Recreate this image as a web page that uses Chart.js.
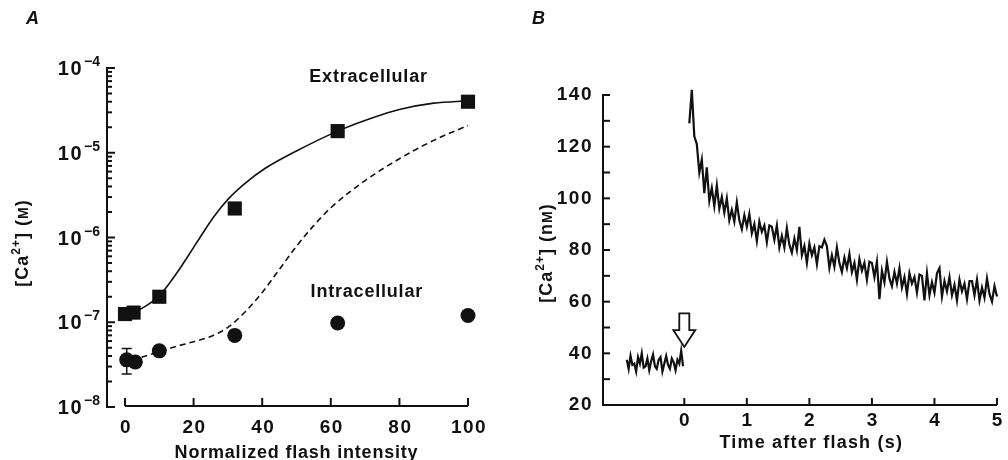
<!DOCTYPE html>
<html>
<head>
<meta charset="utf-8">
<script src="https://cdn.jsdelivr.net/npm/chart.js@4.4.1/dist/chart.umd.min.js"></script>
<style>
html, body { margin: 0; padding: 0; background: #fff; }
#wrapA { position: absolute; left: 0; top: 0; width: 500px; height: 460px; }
#wrapB { position: absolute; left: 500px; top: 0; width: 508px; height: 460px; }
</style>
</head>
<body>
<div id="wrapA"><canvas id="chartA" width="500" height="460"></canvas></div>
<div id="wrapB"><canvas id="chartB" width="508" height="460"></canvas></div>
<script>
// ---- Panel A: [Ca2+] vs normalized flash intensity ----
const extraX = [0, 2.5, 10, 32, 62, 100];
const extraY = [1.25e-7, 1.3e-7, 2.0e-7, 2.2e-6, 1.8e-5, 4.0e-5];
const intraX = [0.5, 3, 10, 32, 62, 100];
const intraY = [3.6e-8, 3.4e-8, 4.6e-8, 7.0e-8, 9.8e-8, 1.2e-7];
const intraErrX = [0.5];
const intraErrLow = [2.45e-8];
const intraErrHigh = [4.9e-8];
const fitExtraX = [2.5, 6, 10, 13, 16, 19, 22, 26, 30, 35, 41, 50, 62, 72, 80, 90, 100];
const fitExtraY = [1.3e-7, 1.55e-7, 2.05e-7, 2.9e-7, 4.3e-7, 6.6e-7, 1.02e-6, 1.78e-6, 2.82e-6, 4.36e-6, 6.6e-6, 1.05e-5, 1.8e-5, 2.57e-5, 3.24e-5, 3.85e-5, 4.1e-5];
const fitIntraX = [2, 6, 10, 15, 20, 25, 30, 35, 40, 45, 50, 55, 60, 70, 80, 90, 100];
const fitIntraY = [3.6e-8, 4.0e-8, 4.5e-8, 5.2e-8, 5.9e-8, 6.8e-8, 8.7e-8, 1.32e-7, 2.25e-7, 4.2e-7, 7.9e-7, 1.38e-6, 2.24e-6, 4.7e-6, 8.5e-6, 1.4e-5, 2.1e-5];
const xTicksA = [0, 20, 40, 60, 80, 100];
const decadesA = [-8, -7, -6, -5, -4];

// ---- Panel B: [Ca2+] trace after the flash ----
const baseT = [-0.92, -0.89, -0.86, -0.83, -0.80, -0.77, -0.74, -0.71, -0.68, -0.65, -0.62, -0.59, -0.56, -0.53, -0.50, -0.47, -0.44, -0.41, -0.38, -0.35, -0.32, -0.29, -0.26, -0.23, -0.20, -0.17, -0.14, -0.11, -0.08, -0.05, -0.02];
const baseCa = [37.5, 34, 39, 35.5, 36, 33, 38.5, 36, 40, 34.5, 35, 38, 33.5, 37, 39.5, 35, 34, 37.5, 38.5, 33, 36, 39, 35.5, 34, 38, 36.5, 33.5, 37.5, 36, 41, 35];
const decayT = [0.08, 0.12, 0.16, 0.20, 0.24, 0.28, 0.32, 0.36, 0.40, 0.44, 0.48, 0.52, 0.56, 0.60, 0.64, 0.68, 0.72, 0.76, 0.80, 0.84, 0.88, 0.92, 0.96, 1.00, 1.04, 1.08, 1.12, 1.16, 1.20, 1.24, 1.28, 1.32, 1.36, 1.40, 1.44, 1.48, 1.52, 1.56, 1.60, 1.64, 1.68, 1.72, 1.76, 1.80, 1.84, 1.88, 1.92, 1.96, 2.00, 2.04, 2.08, 2.12, 2.16, 2.20, 2.24, 2.28, 2.32, 2.36, 2.40, 2.44, 2.48, 2.52, 2.56, 2.60, 2.64, 2.68, 2.72, 2.76, 2.80, 2.84, 2.88, 2.92, 2.96, 3.00, 3.04, 3.08, 3.12, 3.16, 3.20, 3.24, 3.28, 3.32, 3.36, 3.40, 3.44, 3.48, 3.52, 3.56, 3.60, 3.64, 3.68, 3.72, 3.76, 3.80, 3.84, 3.88, 3.92, 3.96, 4.00, 4.04, 4.08, 4.12, 4.16, 4.20, 4.24, 4.28, 4.32, 4.36, 4.40, 4.44, 4.48, 4.52, 4.56, 4.60, 4.64, 4.68, 4.72, 4.76, 4.80, 4.84, 4.88, 4.92, 4.96, 5.00, 5.04, 5.08];
const decayCa = [129, 142, 124, 121, 110, 115, 102, 112, 99, 104,
  97, 105, 96, 100.5, 94.5, 100, 91.5, 95.5, 91, 98.5,
  91.5, 88, 93.5, 89, 94, 86.5, 90, 83.5, 91, 87,
  89.5, 83, 89.5, 89, 84, 89.5, 81, 85.5, 81, 88.5,
  82, 79, 84.5, 80, 89, 78, 81.5, 75, 82.5, 78,
  81, 74.5, 81.5, 81, 84, 81.5, 73, 78, 73.5, 81,
  75, 71.5, 77, 73, 78.5, 71.5, 75, 68.5, 76.5, 72,
  75, 68.5, 75.5, 75, 69.5, 75.5, 61, 72, 67.5, 75.5,
  69, 66, 71.5, 67, 73, 65.5, 69.5, 63, 71, 67,
  69.5, 63.5, 70.5, 70, 60.5, 71, 62.5, 67.5, 63.5, 71,
  73, 62, 68, 64, 69.5, 62.5, 66.5, 60.5, 68.5, 64,
  67, 61, 68, 68, 62.5, 68.5, 60.5, 65.5, 61.5, 69,
  63, 60, 66, 62, 68, 60];
const xTicksB = [0, 1, 2, 3, 4, 5];
const yTicksB = [20, 40, 60, 80, 100, 120, 140];
const yMinorB = [30, 50, 70, 90, 110, 130];

const INK = '#111';
const FONT = "'Liberation Sans', Arial, sans-serif";

function pts(xs, ys) { return xs.map((x, i) => ({ x: x, y: ys[i] })); }

function line(ctx, x1, y1, x2, y2) {
  ctx.beginPath(); ctx.moveTo(x1, y1); ctx.lineTo(x2, y2); ctx.stroke();
}

function txt(ctx, s, x, y, size, o) {
  o = o || {};
  ctx.font = (o.style || 'normal') + ' ' + (o.weight || 'bold') + ' ' + size + 'px ' + FONT;
  ctx.letterSpacing = (o.spacing || 0) + 'px';
  ctx.textAlign = o.align || 'center';
  ctx.textBaseline = o.baseline || 'middle';
  ctx.fillStyle = INK;
  ctx.fillText(s, x, y);
}

// rotated axis title made of pieces (superscript, small-cap unit)
function yTitle(ctx, parts, cx, cy) {
  ctx.save();
  ctx.translate(cx, cy);
  ctx.rotate(-Math.PI / 2);
  let w = 0;
  parts.forEach(p => {
    ctx.font = 'bold ' + p.size + 'px ' + FONT;
    ctx.letterSpacing = '1px';
    p.w = ctx.measureText(p.t).width;
    w += p.w;
  });
  let x = -w / 2;
  parts.forEach(p => {
    txt(ctx, p.t, x, 6 + (p.dy || 0), p.size, { align: 'left', baseline: 'alphabetic', spacing: 1 });
    x += p.w;
  });
  ctx.restore();
}

const axesA = {
  id: 'axesA',
  afterDatasetsDraw(chart) {
    const ctx = chart.ctx, xs = chart.scales.x, ys = chart.scales.y, a = chart.chartArea;
    ctx.save();
    ctx.strokeStyle = INK;
    ctx.lineWidth = 2;
    // y axis with log ticks pointing inward
    line(ctx, a.left, a.top - 1, a.left, a.bottom + 1);
    decadesA.forEach((d, i) => {
      const py = ys.getPixelForValue(Math.pow(10, d));
      line(ctx, a.left, py, a.left + 8, py);
      if (i < decadesA.length - 1) {
        for (let k = 2; k <= 9; k++) {
          const pm = ys.getPixelForValue(k * Math.pow(10, d));
          line(ctx, a.left, pm, a.left + 5, pm);
        }
      }
      ctx.font = 'bold 14px ' + FONT;
      ctx.letterSpacing = '0px';
      const sup = '\u2212' + Math.abs(d);
      const sw = ctx.measureText(sup).width;
      txt(ctx, sup, a.left - 7, py - 2, 14, { align: 'right', baseline: 'alphabetic' });
      txt(ctx, '10', a.left - 8 - sw, py + 7, 20, { align: 'right', baseline: 'alphabetic', spacing: 1.5 });
    });
    // detached x axis from 0 to 100
    const xb = a.bottom - 1;
    line(ctx, xs.getPixelForValue(xTicksA[0]), xb, xs.getPixelForValue(xTicksA[xTicksA.length - 1]), xb);
    xTicksA.forEach(v => {
      const px = xs.getPixelForValue(v);
      line(ctx, px, xb, px, xb - 8);
      txt(ctx, String(v), px + 1, a.bottom + 21, 19, { spacing: 1.5 });
    });
    // error bar on the first intracellular point
    ctx.lineWidth = 1.5;
    intraErrX.forEach((x, i) => {
      const px = xs.getPixelForValue(x);
      const ph = ys.getPixelForValue(intraErrHigh[i]);
      const pl = ys.getPixelForValue(intraErrLow[i]);
      line(ctx, px, ph, px, pl);
      line(ctx, px - 5, ph, px + 5, ph);
      line(ctx, px - 5, pl, px + 5, pl);
    });
    // labels
    txt(ctx, 'Extracellular', xs.getPixelForValue(71), ys.getPixelForValue(7.8e-5), 18, { spacing: 0.8 });
    txt(ctx, 'Intracellular', xs.getPixelForValue(70.5), ys.getPixelForValue(2.26e-7), 18, { spacing: 0.8 });
    txt(ctx, 'Normalized flash intensity', xs.getPixelForValue(50), a.bottom + 46, 18, { spacing: 0.8 });
    txt(ctx, 'A', 26, 19, 18, { style: 'italic', align: 'left' });
    yTitle(ctx, [{ t: '[Ca', size: 18 }, { t: '2+', size: 12, dy: -8 }, { t: '] (', size: 18 }, { t: 'M', size: 14 }, { t: ')', size: 18 }], 22, 243);
    ctx.restore();
  }
};

const axesB = {
  id: 'axesB',
  afterDatasetsDraw(chart) {
    const ctx = chart.ctx, xs = chart.scales.x, ys = chart.scales.y, a = chart.chartArea;
    ctx.save();
    ctx.strokeStyle = INK;
    ctx.lineWidth = 2;
    line(ctx, a.left, a.top - 1, a.left, a.bottom + 1);
    line(ctx, a.left - 1, a.bottom, a.right, a.bottom);
    yTicksB.forEach(v => {
      const py = ys.getPixelForValue(v);
      line(ctx, a.left, py, a.left + 7, py);
      txt(ctx, String(v), a.left - 10, py, 19, { align: 'right', spacing: 1.5 });
    });
    yMinorB.forEach(v => {
      const py = ys.getPixelForValue(v);
      line(ctx, a.left, py, a.left + 7, py);
    });
    xTicksB.forEach(v => {
      const px = xs.getPixelForValue(v);
      line(ctx, px, a.bottom, px, a.bottom - 7);
      txt(ctx, String(v), px, a.bottom + 16, 19);
    });
    // hollow flash arrow at t = 0
    const ax = xs.getPixelForValue(0);
    const yTop = ys.getPixelForValue(55.5), yHead = ys.getPixelForValue(49), yTip = ys.getPixelForValue(42.5);
    ctx.beginPath();
    ctx.moveTo(ax - 5, yTop); ctx.lineTo(ax + 5, yTop); ctx.lineTo(ax + 5, yHead);
    ctx.lineTo(ax + 11, yHead); ctx.lineTo(ax, yTip); ctx.lineTo(ax - 11, yHead);
    ctx.lineTo(ax - 5, yHead); ctx.closePath();
    ctx.fillStyle = '#fff'; ctx.fill();
    ctx.lineWidth = 1.8; ctx.lineJoin = 'miter'; ctx.stroke();
    txt(ctx, 'Time after flash (s)', xs.getPixelForValue(2.03), a.bottom + 38, 18, { spacing: 1.2 });
    txt(ctx, 'B', 32, 19, 18, { style: 'italic', align: 'left' });
    yTitle(ctx, [{ t: '[Ca', size: 18 }, { t: '2+', size: 12, dy: -8 }, { t: '] (n', size: 18 }, { t: 'M', size: 14 }, { t: ')', size: 18 }], 46, 253);
    ctx.restore();
  }
};

const commonOpts = {
  responsive: false,
  animation: false,
  devicePixelRatio: 1,
  plugins: { legend: { display: false }, tooltip: { enabled: false } }
};

new Chart(document.getElementById('chartA').getContext('2d'), {
  type: 'scatter',
  data: {
    datasets: [
      { data: pts(fitExtraX, fitExtraY), showLine: true, borderColor: INK, borderWidth: 1.6, pointRadius: 0, cubicInterpolationMode: 'monotone', clip: false },
      { data: pts(fitIntraX, fitIntraY), showLine: true, borderColor: INK, borderWidth: 1.6, borderDash: [6, 4], pointRadius: 0, cubicInterpolationMode: 'monotone', clip: false },
      { data: pts(extraX, extraY), pointStyle: 'rect', pointRadius: 10, backgroundColor: INK, borderColor: INK, borderWidth: 0, clip: false },
      { data: pts(intraX, intraY), pointStyle: 'circle', pointRadius: 7.5, backgroundColor: INK, borderColor: INK, borderWidth: 0, clip: false }
    ]
  },
  options: Object.assign({}, commonOpts, {
    layout: { padding: { left: 107, right: 32, top: 68, bottom: 53 } },
    scales: {
      x: { type: 'linear', min: -5.25, max: 100, display: false },
      y: { type: 'logarithmic', min: 1e-8, max: 1e-4, display: false }
    }
  }),
  plugins: [axesA]
});

new Chart(document.getElementById('chartB').getContext('2d'), {
  type: 'scatter',
  data: {
    datasets: [
      { data: pts(baseT, baseCa), showLine: true, borderColor: INK, borderWidth: 2.2, pointRadius: 0, tension: 0, clip: false },
      { data: pts(decayT, decayCa), showLine: true, borderColor: INK, borderWidth: 2.2, pointRadius: 0, tension: 0, clip: false }
    ]
  },
  options: Object.assign({}, commonOpts, {
    layout: { padding: { left: 103, right: 11, top: 95, bottom: 55 } },
    scales: {
      x: { type: 'linear', min: -1.3, max: 5, display: false },
      y: { type: 'linear', min: 20, max: 140, display: false }
    }
  }),
  plugins: [axesB]
});
</script>
</body>
</html>
